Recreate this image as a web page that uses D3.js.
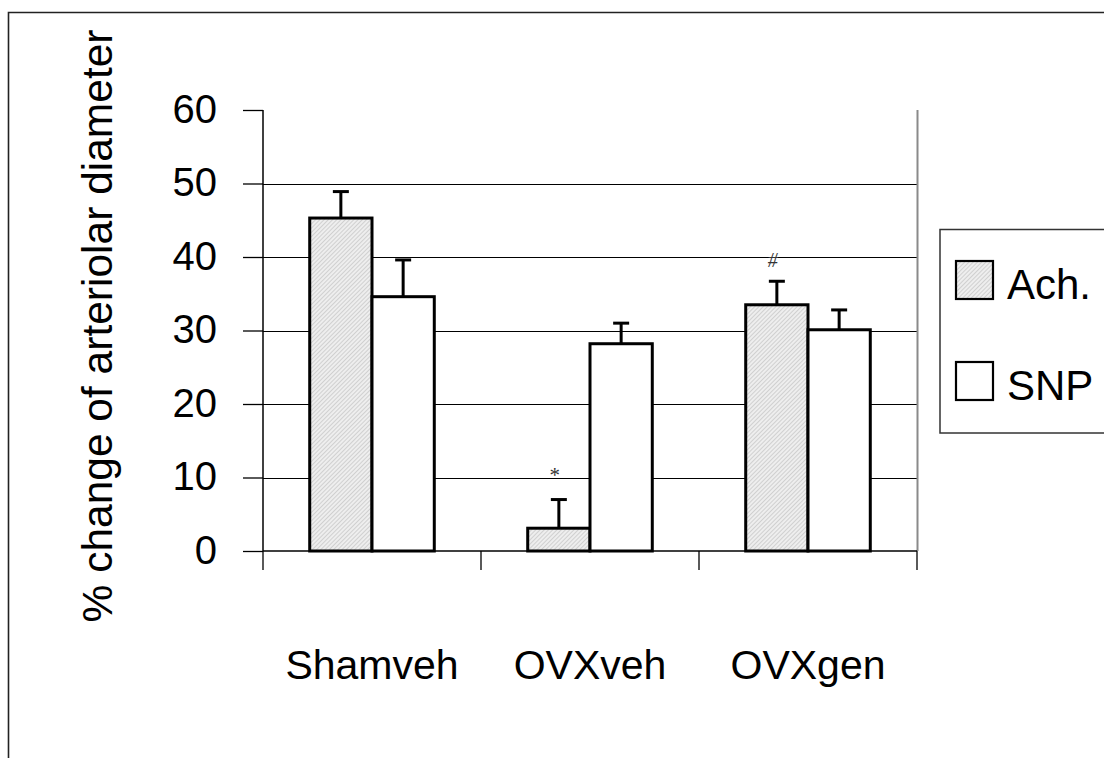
<!DOCTYPE html>
<html>
<head>
<meta charset="utf-8">
<script src="https://cdn.jsdelivr.net/npm/d3@7"></script>
<style>
  html, body { margin: 0; padding: 0; background: #ffffff; }
  svg { display: block; }
</style>
</head>
<body>
<svg id="chart" width="1104" height="758"></svg>
<script>
// Vasodilator response per treatment group
const categories = ["Shamveh", "OVXveh", "OVXgen"];
const seriesNames = ["Ach.", "SNP"];
const achValues = [45.3, 3.1, 33.5];
const achErrors = [3.6, 3.9, 3.2];
const snpValues = [34.6, 28.2, 30.1];
const snpErrors = [5.0, 2.8, 2.7];
const achMarks = ["", "*", "#"];
const yTicks = [0, 10, 20, 30, 40, 50, 60];
const yLabel = "% change of arteriolar diameter";

const svg = d3.select("#chart");
const font = "'Liberation Sans', Arial, Helvetica, sans-serif";

// hatched fill for the Ach. series
const defs = svg.append("defs");
const pat = defs.append("pattern")
  .attr("id", "hatch")
  .attr("patternUnits", "userSpaceOnUse")
  .attr("width", 3).attr("height", 3)
  .attr("patternTransform", "rotate(45)");
pat.append("rect").attr("width", 3).attr("height", 3).attr("fill", "#eeeeee");
pat.append("line").attr("x1", 0).attr("y1", 0).attr("x2", 0).attr("y2", 3)
  .attr("stroke", "#b8b8b8").attr("stroke-width", 1.1);

// outer frame (top and left edges)
svg.append("path")
  .attr("d", "M8.5,758 L8.5,12.5 L1104,12.5")
  .attr("fill", "none").attr("stroke", "#222").attr("stroke-width", 1.6);

const plot = { left: 263, right: 917, top: 110, bottom: 551 };

const x = d3.scaleBand().domain(categories).range([plot.left, plot.right]).padding(0);
const xs = d3.scaleBand().domain(seriesNames).range([0, x.bandwidth()])
  .paddingInner(0).paddingOuter(0.75);
const y = d3.scaleLinear().domain([0, 60]).range([plot.bottom, plot.top]);

// gridlines (inner ticks only)
svg.append("g")
  .selectAll("line")
  .data(yTicks.filter(d => d > 0 && d < 60))
  .join("line")
  .attr("x1", plot.left).attr("x2", plot.right)
  .attr("y1", d => Math.round(y(d)) + 0.5).attr("y2", d => Math.round(y(d)) + 0.5)
  .attr("stroke", "#000").attr("stroke-width", 1);

// right edge of the plot area
svg.append("line")
  .attr("x1", plot.right + 0.5).attr("x2", plot.right + 0.5)
  .attr("y1", plot.top).attr("y2", plot.bottom)
  .attr("stroke", "#8a8a8a").attr("stroke-width", 2);

// y axis
const yAxis = d3.axisLeft(y).tickValues(yTicks).tickSize(20).tickPadding(26);
const gy = svg.append("g").attr("transform", `translate(${plot.left},0)`).call(yAxis);
gy.select(".domain").remove();
gy.selectAll(".tick line").attr("stroke", "#000").attr("stroke-width", 1.3);
gy.selectAll(".tick text")
  .attr("font-family", font).attr("font-size", 40).attr("fill", "#000")
  .attr("dy", "0.30em");
svg.append("line")
  .attr("x1", plot.left).attr("x2", plot.left)
  .attr("y1", plot.top).attr("y2", plot.bottom)
  .attr("stroke", "#000").attr("stroke-width", 1.5);

// x axis with category boundary ticks
svg.append("line")
  .attr("x1", plot.left).attr("x2", plot.right)
  .attr("y1", plot.bottom).attr("y2", plot.bottom)
  .attr("stroke", "#000").attr("stroke-width", 1.5);
const boundaries = categories.map(c => x(c)).concat([plot.right]);
svg.append("g").selectAll("line")
  .data(boundaries)
  .join("line")
  .attr("x1", d => d).attr("x2", d => d)
  .attr("y1", plot.bottom).attr("y2", plot.bottom + 19)
  .attr("stroke", "#000").attr("stroke-width", 1.3);

// category labels
svg.append("g").selectAll("text")
  .data(categories)
  .join("text")
  .attr("x", d => x(d) + x.bandwidth() / 2)
  .attr("y", 679)
  .attr("text-anchor", "middle")
  .attr("font-family", font).attr("font-size", 41).attr("fill", "#000")
  .text(d => d);

// y axis title
svg.append("text")
  .attr("transform", "translate(112,326) rotate(-90)")
  .attr("text-anchor", "middle")
  .attr("font-family", font).attr("font-size", 42.5).attr("fill", "#000")
  .text(yLabel);

// bars and error bars
const series = [
  { name: "Ach.", values: achValues, errors: achErrors, fill: "url(#hatch)" },
  { name: "SNP", values: snpValues, errors: snpErrors, fill: "#ffffff" }
];

series.forEach(s => {
  const g = svg.append("g");
  const rows = categories.map((c, i) => ({ c, v: s.values[i], e: s.errors[i] }));
  g.selectAll("line.err")
    .data(rows)
    .join("line")
    .attr("class", "err")
    .attr("x1", d => x(d.c) + xs(s.name) + xs.bandwidth() / 2)
    .attr("x2", d => x(d.c) + xs(s.name) + xs.bandwidth() / 2)
    .attr("y1", d => y(d.v)).attr("y2", d => y(d.v + d.e))
    .attr("stroke", "#000").attr("stroke-width", 3);
  g.selectAll("line.cap")
    .data(rows)
    .join("line")
    .attr("class", "cap")
    .attr("x1", d => x(d.c) + xs(s.name) + xs.bandwidth() / 2 - 8)
    .attr("x2", d => x(d.c) + xs(s.name) + xs.bandwidth() / 2 + 8)
    .attr("y1", d => y(d.v + d.e)).attr("y2", d => y(d.v + d.e))
    .attr("stroke", "#000").attr("stroke-width", 3);
  g.selectAll("rect")
    .data(rows)
    .join("rect")
    .attr("x", d => x(d.c) + xs(s.name))
    .attr("y", d => y(d.v))
    .attr("width", xs.bandwidth())
    .attr("height", d => y(0) - y(d.v))
    .attr("fill", s.fill)
    .attr("stroke", "#000").attr("stroke-width", 3);
});

// significance markers above the Ach. bars
svg.append("g").selectAll("text")
  .data(categories.map((c, i) => ({ c, v: achValues[i], e: achErrors[i], m: achMarks[i] })).filter(d => d.m))
  .join("text")
  .attr("x", d => x(d.c) + xs("Ach.") + xs.bandwidth() / 2 - 4)
  .attr("y", d => y(d.v + d.e) - (d.m === "*" ? 18 : 14))
  .attr("text-anchor", "middle")
  .attr("font-family", "'Liberation Serif', 'Times New Roman', serif")
  .attr("font-style", d => d.m === "#" ? "italic" : "normal")
  .attr("font-size", d => d.m === "*" ? 21 : 20)
  .attr("fill", "#333")
  .text(d => d.m);

// legend
const legend = svg.append("g");
legend.append("rect")
  .attr("x", 940).attr("y", 229.5).attr("width", 200).attr("height", 203.5)
  .attr("fill", "#fff").attr("stroke", "#333").attr("stroke-width", 1.5);
const legendRows = [
  { name: "Ach.", fill: "url(#hatch)", y: 261 },
  { name: "SNP", fill: "#ffffff", y: 362 }
];
legendRows.forEach(r => {
  legend.append("rect")
    .attr("x", 956).attr("y", r.y).attr("width", 37).attr("height", 38)
    .attr("fill", r.fill).attr("stroke", "#000").attr("stroke-width", 2.2);
  legend.append("text")
    .attr("x", 1007).attr("y", r.y + 38)
    .attr("font-family", font).attr("font-size", 42).attr("fill", "#000")
    .text(r.name);
});
</script>
</body>
</html>
